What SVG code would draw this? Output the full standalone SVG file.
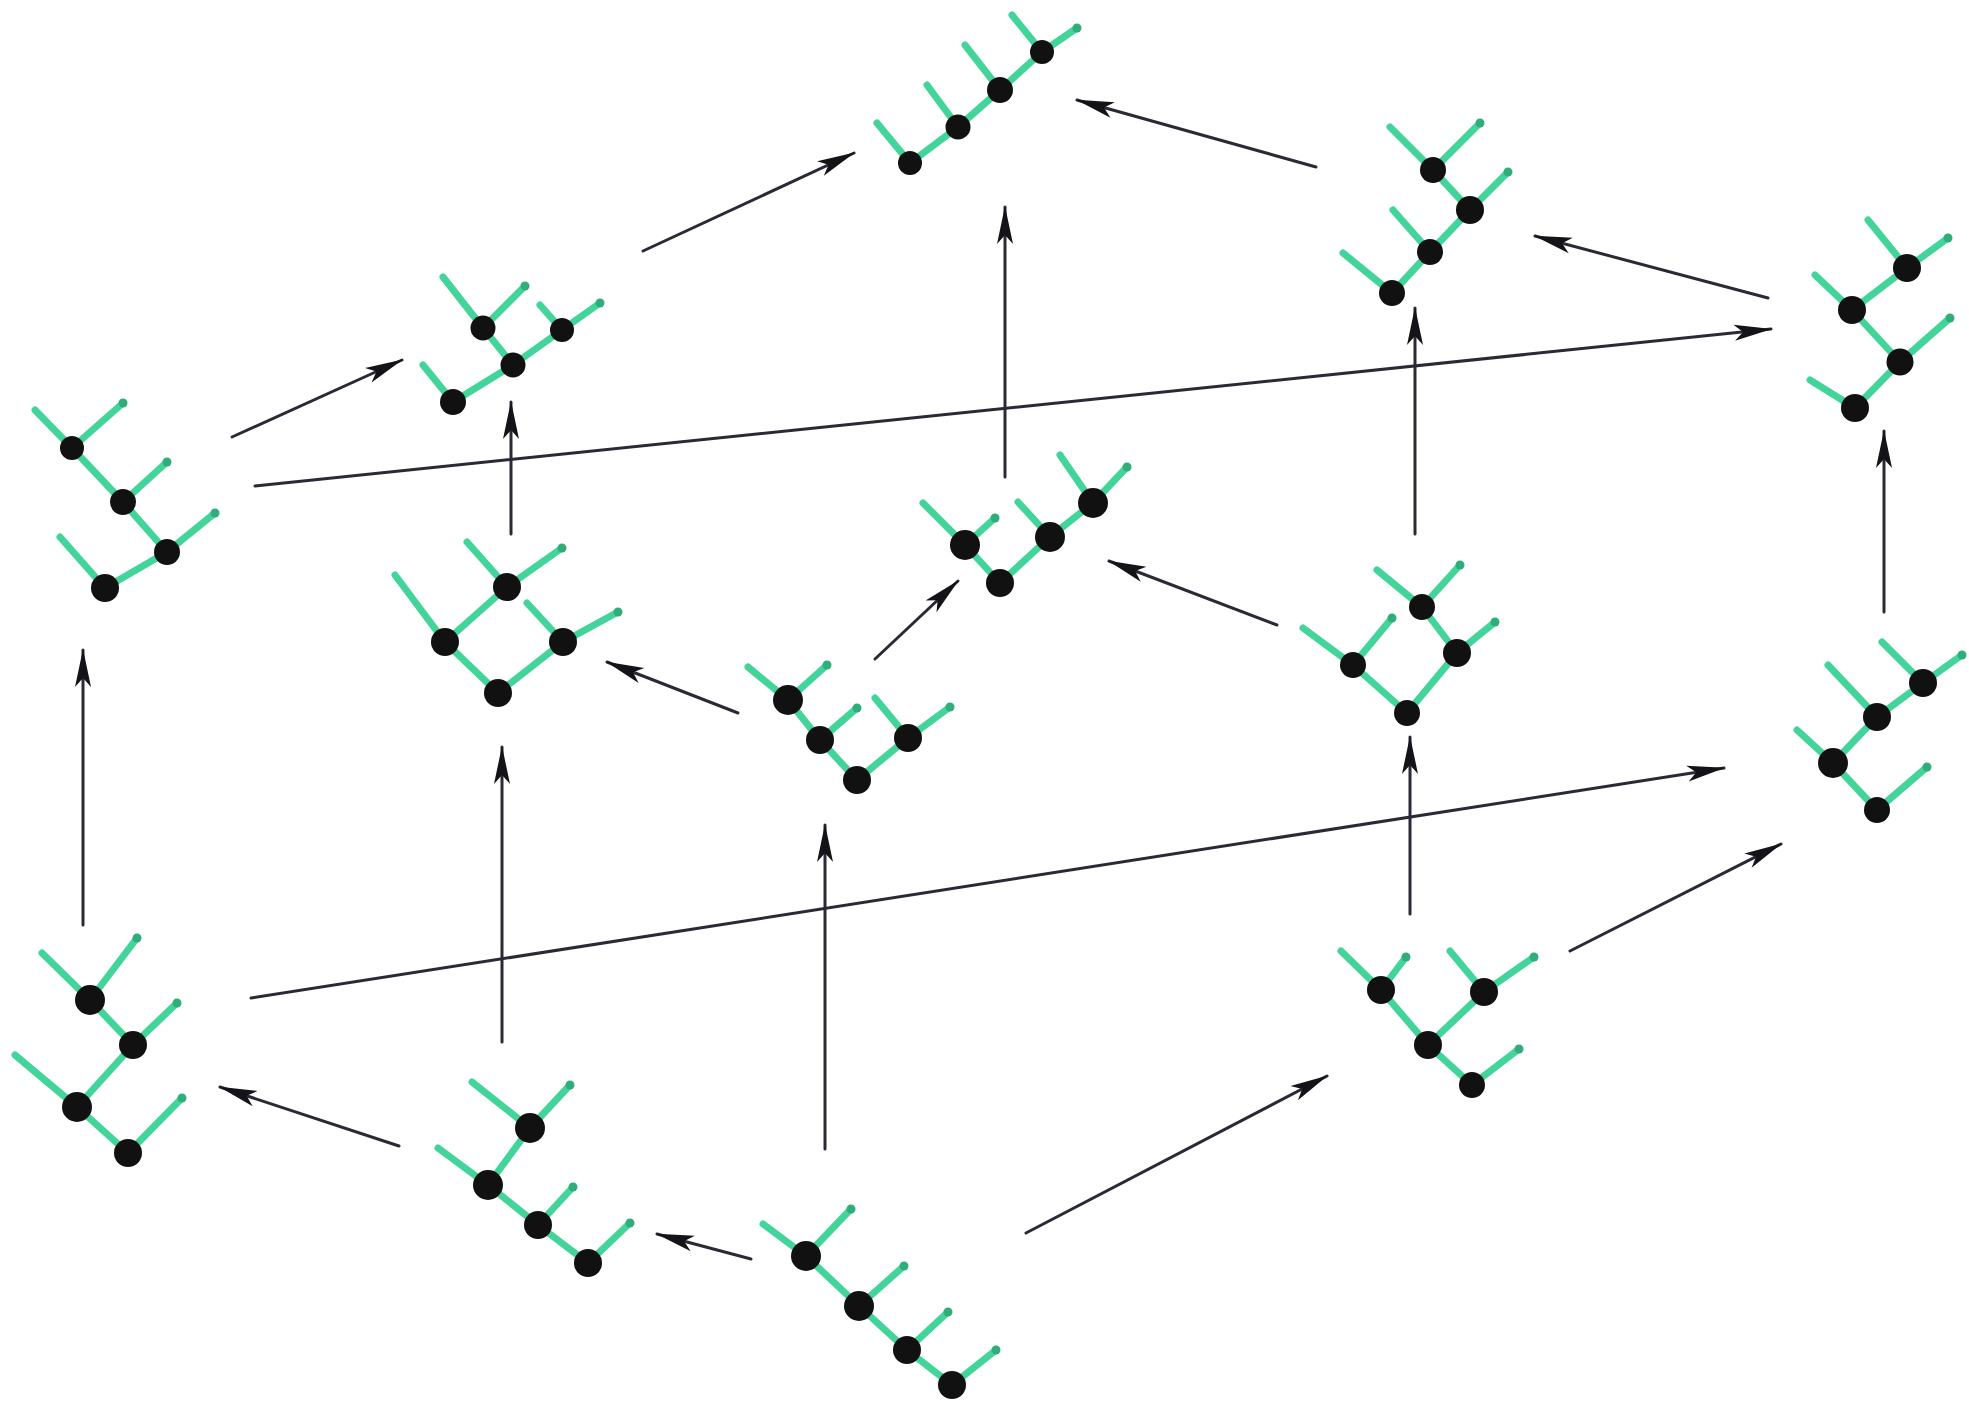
<svg xmlns="http://www.w3.org/2000/svg" width="1969" height="1406" viewBox="0 0 1969 1406">
  <style>
    .e { fill: none; stroke: #43d49c; stroke-width: 7; stroke-linecap: round; stroke-linejoin: round; }
    .n { fill: #111111; }
    .t { fill: #2fae7c; }
    .a { fill: none; stroke: #2a2a36; stroke-width: 3; stroke-linecap: round; marker-end: url(#head); }
  </style>
  <defs>
    <marker id="head" markerUnits="userSpaceOnUse" markerWidth="40" markerHeight="20" refX="37" refY="10" orient="auto">
      <path d="M0,2 L38,10 L0,18 L9,10 Z" fill="#141418"/>
    </marker>
  </defs>
  <rect width="1969" height="1406" fill="#ffffff"/>

  <!-- connectors: covering relations between the binary trees -->
  <g id="connectors">
    <path class="a" d="M643,251 L854,153"/>
    <path class="a" d="M1316,167 L1077,100"/>
    <path class="a" d="M1005,477 L1005,207"/>
    <path class="a" d="M1768,298 L1535,236"/>
    <path class="a" d="M1415,534 L1415,308"/>
    <path class="a" d="M255,486 L1771,329"/>
    <path class="a" d="M232,437 L402,360"/>
    <path class="a" d="M511,534 L511,402"/>
    <path class="a" d="M1884,612 L1884,431"/>
    <path class="a" d="M83,925 L83,650"/>
    <path class="a" d="M738,713 L607,662"/>
    <path class="a" d="M875,659 L958,581"/>
    <path class="a" d="M1277,625 L1109,561"/>
    <path class="a" d="M502,1042 L502,747"/>
    <path class="a" d="M825,1149 L825,825"/>
    <path class="a" d="M1410,914 L1410,737"/>
    <path class="a" d="M251,998 L1724,768"/>
    <path class="a" d="M1570,951 L1781,844"/>
    <path class="a" d="M399,1146 L220,1087"/>
    <path class="a" d="M751,1259 L657,1234"/>
    <path class="a" d="M1026,1233 L1327,1076"/>
  </g>

  <!-- right comb (top element) -->
  <g id="tree-top">
    <path class="e" d="M910,163 L958,127 L1000,90 L1042,52 L1077,28 M910,163 L877,123 M958,127 L927,85 M1000,90 L965,45 M1042,52 L1012,15"/>
    <circle class="t" cx="1077" cy="28" r="4.5"/>
    <circle class="n" cx="910" cy="163" r="12"/>
    <circle class="n" cx="958" cy="127" r="12.5"/>
    <circle class="n" cx="1000" cy="90" r="13"/>
    <circle class="n" cx="1042" cy="52" r="12"/>
  </g>

  <g id="tree-upper-left">
    <path class="e" d="M453,402 L423,365 M453,402 L513,365 L483,328 L443,277 M483,328 L525,286 M513,365 L562,330 L540,305 M562,330 L600,303"/>
    <circle class="t" cx="525" cy="286" r="4.5"/>
    <circle class="t" cx="600" cy="303" r="4.5"/>
    <circle class="n" cx="453" cy="402" r="13"/>
    <circle class="n" cx="513" cy="365" r="12.5"/>
    <circle class="n" cx="483" cy="328" r="12.5"/>
    <circle class="n" cx="562" cy="330" r="12"/>
  </g>

  <g id="tree-upper-right">
    <path class="e" d="M1392,293 L1343,253 M1392,293 L1430,252 L1393,210 M1430,252 L1470,210 L1508,172 M1470,210 L1433,170 L1390,127 M1433,170 L1480,123"/>
    <circle class="t" cx="1508" cy="172" r="4.5"/>
    <circle class="t" cx="1480" cy="123" r="4.5"/>
    <circle class="n" cx="1392" cy="293" r="13"/>
    <circle class="n" cx="1430" cy="252" r="13"/>
    <circle class="n" cx="1470" cy="210" r="14"/>
    <circle class="n" cx="1433" cy="170" r="13"/>
  </g>

  <g id="tree-far-right-top">
    <path class="e" d="M1855,408 L1810,380 M1855,408 L1900,362 L1950,318 M1900,362 L1852,310 L1815,275 M1852,310 L1907,268 L1868,220 M1907,268 L1948,238"/>
    <circle class="t" cx="1950" cy="318" r="4.5"/>
    <circle class="t" cx="1948" cy="238" r="4.5"/>
    <circle class="n" cx="1855" cy="408" r="14"/>
    <circle class="n" cx="1900" cy="362" r="13.5"/>
    <circle class="n" cx="1852" cy="310" r="14"/>
    <circle class="n" cx="1907" cy="268" r="14"/>
  </g>

  <g id="tree-left">
    <path class="e" d="M105,588 L60,537 M105,588 L167,552 L215,513 M167,552 L123,502 L167,462 M123,502 L72,448 L35,410 M72,448 L123,403"/>
    <circle class="t" cx="215" cy="513" r="4.5"/>
    <circle class="t" cx="167" cy="462" r="4.5"/>
    <circle class="t" cx="123" cy="403" r="4.5"/>
    <circle class="n" cx="105" cy="588" r="14"/>
    <circle class="n" cx="167" cy="552" r="13"/>
    <circle class="n" cx="123" cy="502" r="13"/>
    <circle class="n" cx="72" cy="448" r="12"/>
  </g>

  <g id="tree-mid-left">
    <path class="e" d="M498,693 L445,642 L395,575 M445,642 L507,587 L467,542 M507,587 L562,548 M498,693 L563,642 L527,603 M563,642 L618,612"/>
    <circle class="t" cx="562" cy="548" r="4.5"/>
    <circle class="t" cx="618" cy="612" r="4.5"/>
    <circle class="n" cx="498" cy="693" r="14"/>
    <circle class="n" cx="445" cy="642" r="14"/>
    <circle class="n" cx="507" cy="587" r="14"/>
    <circle class="n" cx="563" cy="642" r="14"/>
  </g>

  <g id="tree-center">
    <path class="e" d="M1000,583 L965,545 L923,503 M965,545 L995,518 M1000,583 L1050,537 L1018,502 M1050,537 L1093,503 L1060,455 M1093,503 L1127,467"/>
    <circle class="t" cx="995" cy="518" r="4.5"/>
    <circle class="t" cx="1127" cy="467" r="4.5"/>
    <circle class="n" cx="1000" cy="583" r="14"/>
    <circle class="n" cx="965" cy="545" r="15"/>
    <circle class="n" cx="1050" cy="537" r="15"/>
    <circle class="n" cx="1093" cy="503" r="15"/>
  </g>

  <g id="tree-center-right">
    <path class="e" d="M1407,713 L1353,665 L1303,628 M1353,665 L1392,618 M1407,713 L1457,653 L1495,622 M1457,653 L1422,607 L1377,570 M1422,607 L1460,565"/>
    <circle class="t" cx="1392" cy="618" r="4.5"/>
    <circle class="t" cx="1495" cy="622" r="4.5"/>
    <circle class="t" cx="1460" cy="565" r="4.5"/>
    <circle class="n" cx="1407" cy="713" r="13"/>
    <circle class="n" cx="1353" cy="665" r="13"/>
    <circle class="n" cx="1457" cy="653" r="14"/>
    <circle class="n" cx="1422" cy="607" r="13"/>
  </g>

  <g id="tree-center-low">
    <path class="e" d="M857,780 L820,740 L788,700 L748,667 M788,700 L827,665 M820,740 L857,708 M857,780 L908,738 L875,698 M908,738 L950,707"/>
    <circle class="t" cx="827" cy="665" r="4.5"/>
    <circle class="t" cx="857" cy="708" r="4.5"/>
    <circle class="t" cx="950" cy="707" r="4.5"/>
    <circle class="n" cx="857" cy="780" r="14"/>
    <circle class="n" cx="820" cy="740" r="14"/>
    <circle class="n" cx="788" cy="700" r="15"/>
    <circle class="n" cx="908" cy="738" r="14"/>
  </g>

  <g id="tree-right">
    <path class="e" d="M1877,810 L1927,767 M1877,810 L1833,763 L1797,730 M1833,763 L1877,717 L1828,665 M1877,717 L1923,683 L1882,642 M1923,683 L1962,655"/>
    <circle class="t" cx="1927" cy="767" r="4.5"/>
    <circle class="t" cx="1962" cy="655" r="4.5"/>
    <circle class="n" cx="1877" cy="810" r="13"/>
    <circle class="n" cx="1833" cy="763" r="15"/>
    <circle class="n" cx="1877" cy="717" r="14"/>
    <circle class="n" cx="1923" cy="683" r="14"/>
  </g>

  <g id="tree-bottom-left">
    <path class="e" d="M128,1153 L182,1098 M128,1153 L77,1107 L15,1055 M77,1107 L133,1045 L177,1003 M133,1045 L90,1000 L42,953 M90,1000 L137,938"/>
    <circle class="t" cx="182" cy="1098" r="4.5"/>
    <circle class="t" cx="177" cy="1003" r="4.5"/>
    <circle class="t" cx="137" cy="938" r="4.5"/>
    <circle class="n" cx="128" cy="1153" r="14"/>
    <circle class="n" cx="77" cy="1107" r="15"/>
    <circle class="n" cx="133" cy="1045" r="14"/>
    <circle class="n" cx="90" cy="1000" r="15"/>
  </g>

  <g id="tree-bottom-mid">
    <path class="e" d="M588,1263 L630,1223 M588,1263 L538,1225 L573,1187 M538,1225 L488,1185 L438,1148 M488,1185 L530,1128 L472,1082 M530,1128 L570,1085"/>
    <circle class="t" cx="630" cy="1223" r="4.5"/>
    <circle class="t" cx="573" cy="1187" r="4.5"/>
    <circle class="t" cx="570" cy="1085" r="4.5"/>
    <circle class="n" cx="588" cy="1263" r="14"/>
    <circle class="n" cx="538" cy="1225" r="14"/>
    <circle class="n" cx="488" cy="1185" r="15"/>
    <circle class="n" cx="530" cy="1128" r="15"/>
  </g>

  <!-- left comb (bottom element) -->
  <g id="tree-bottom">
    <path class="e" d="M952,1385 L996,1350 M952,1385 L907,1350 L948,1312 M907,1350 L859,1306 L904,1266 M859,1306 L806,1256 L763,1224 M806,1256 L851,1209"/>
    <circle class="t" cx="996" cy="1350" r="4.5"/>
    <circle class="t" cx="948" cy="1312" r="4.5"/>
    <circle class="t" cx="904" cy="1266" r="4.5"/>
    <circle class="t" cx="851" cy="1209" r="4.5"/>
    <circle class="n" cx="952" cy="1385" r="14"/>
    <circle class="n" cx="907" cy="1350" r="14"/>
    <circle class="n" cx="859" cy="1306" r="15"/>
    <circle class="n" cx="806" cy="1256" r="15"/>
  </g>

  <g id="tree-lower-right">
    <path class="e" d="M1472,1085 L1519,1049 M1472,1085 L1428,1045 L1381,990 L1341,951 M1381,990 L1406,957 M1428,1045 L1484,992 L1450,951 M1484,992 L1534,957"/>
    <circle class="t" cx="1519" cy="1049" r="4.5"/>
    <circle class="t" cx="1406" cy="957" r="4.5"/>
    <circle class="t" cx="1534" cy="957" r="4.5"/>
    <circle class="n" cx="1472" cy="1085" r="13"/>
    <circle class="n" cx="1428" cy="1045" r="14"/>
    <circle class="n" cx="1381" cy="990" r="14"/>
    <circle class="n" cx="1484" cy="992" r="14"/>
  </g>
</svg>
